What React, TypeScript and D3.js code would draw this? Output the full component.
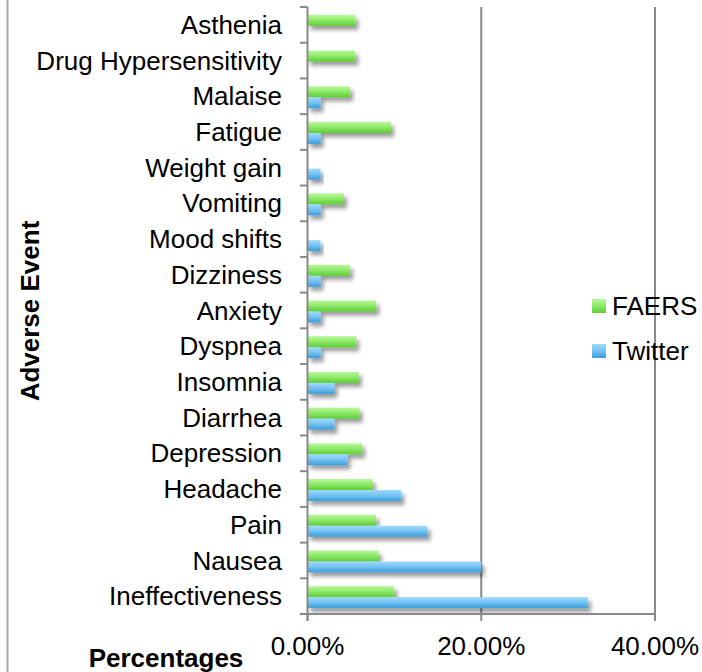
import * as d3 from 'd3';

const categories = [
  'Ineffectiveness', 'Nausea', 'Pain', 'Headache', 'Depression', 'Diarrhea',
  'Insomnia', 'Dyspnea', 'Anxiety', 'Dizziness', 'Mood shifts', 'Vomiting',
  'Weight gain', 'Fatigue', 'Malaise', 'Drug Hypersensitivity', 'Asthenia',
];
const faers = [10.0, 8.2, 7.9, 7.5, 6.3, 6.0, 5.9, 5.6, 7.9, 4.9, 0, 4.2, 0, 9.6, 4.9, 5.5, 5.5];
const twitter = [32.3, 20.0, 13.8, 10.8, 4.6, 3.1, 3.1, 1.5, 1.5, 1.5, 1.5, 1.5, 1.5, 1.5, 1.5, 0, 0];
const xTicks = [0, 20, 40];
const seriesNames = ['FAERS', 'Twitter'];

const W = 702;
const H = 672;
const axisColor = '#898989';
const font = 'Liberation Sans, Arial, sans-serif';

export default function App() {
  const x = d3.scaleLinear().domain([0, 40]).range([307.5, 655]);
  const y = d3.scaleBand().domain([...categories].reverse()).range([7, 614]);
  const bw = y.bandwidth();
  const sub = d3.scaleBand().domain(seriesNames).range([0, 22]);
  const fmt = d3.format('.2%');

  const rows = categories.map((c, i) => ({ c, f: faers[i], t: twitter[i] }));

  return (
    <svg width={W} height={H} style={{ position: 'absolute', left: 0, top: 0 }} fontFamily={font}>
      <defs>
        <linearGradient id="gGreen" x1="0" y1="0" x2="0" y2="1">
          <stop offset="0" stopColor="#b6f99a" />
          <stop offset="0.5" stopColor="#8ee868" />
          <stop offset="1" stopColor="#5acd34" />
        </linearGradient>
        <linearGradient id="gBlue" x1="0" y1="0" x2="0" y2="1">
          <stop offset="0" stopColor="#a0dbfd" />
          <stop offset="0.5" stopColor="#72c2f2" />
          <stop offset="1" stopColor="#3d9cdb" />
        </linearGradient>
        <filter id="shadow" x="-10%" y="-50%" width="130%" height="250%">
          <feGaussianBlur in="SourceAlpha" stdDeviation="2" />
          <feOffset dx="3" dy="4" result="b" />
          <feComponentTransfer>
            <feFuncA type="linear" slope="0.4" />
          </feComponentTransfer>
          <feMerge>
            <feMergeNode />
            <feMergeNode in="SourceGraphic" />
          </feMerge>
        </filter>
      </defs>

      {/* frame edge */}
      <line x1={7.5} x2={7.5} y1={0} y2={H} stroke="#a6a6a6" strokeWidth={2} />

      {/* gridlines */}
      {xTicks.slice(1).map(t => (
        <line key={t} x1={x(t)} x2={x(t)} y1={7} y2={614} stroke={axisColor} strokeWidth={2} />
      ))}

      {/* bars */}
      {rows.map(r => {
        const y0 = (y(r.c) ?? 0) + (bw - 22) / 2 + 1;
        return (
          <g key={r.c} filter="url(#shadow)">
            {r.f > 0 && (
              <rect x={x(0)} y={y0 + (sub('FAERS') ?? 0)} width={x(r.f) - x(0)} height={sub.bandwidth()} fill="url(#gGreen)" />
            )}
            {r.t > 0 && (
              <rect x={x(0)} y={y0 + (sub('Twitter') ?? 0)} width={x(r.t) - x(0)} height={sub.bandwidth()} fill="url(#gBlue)" />
            )}
          </g>
        );
      })}

      {/* y axis */}
      <line x1={x(0)} x2={x(0)} y1={7} y2={621} stroke={axisColor} strokeWidth={2} />
      {[...y.domain().map(c => y(c) ?? 0), 614].map((v, i) => (
        <line key={i} x1={300} x2={x(0)} y1={v} y2={v} stroke={axisColor} strokeWidth={2} />
      ))}
      {categories.map(c => (
        <text key={c} x={282} y={(y(c) ?? 0) + bw / 2} dy="0.35em" textAnchor="end" fontSize={26} fill="#000">
          {c}
        </text>
      ))}

      {/* x axis */}
      <line x1={x(0)} x2={x(40)} y1={614} y2={614} stroke={axisColor} strokeWidth={2} />
      {xTicks.map(t => (
        <g key={t}>
          <line x1={x(t)} x2={x(t)} y1={614} y2={621} stroke={axisColor} strokeWidth={2} />
          <text x={x(t)} y={655} textAnchor="middle" fontSize={26} fill="#000">
            {fmt(t / 100)}
          </text>
        </g>
      ))}

      {/* axis titles */}
      <text x={166} y={667} textAnchor="middle" fontSize={26} fontWeight="bold">
        Percentages
      </text>
      <text transform="translate(39,311) rotate(-90)" textAnchor="middle" fontSize={26} fontWeight="bold">
        Adverse Event
      </text>

      {/* legend */}
      {seriesNames.map((s, i) => (
        <g key={s} transform={`translate(592,${306 + i * 45})`}>
          <rect x={0} y={-7} width={14} height={14} fill={i === 0 ? 'url(#gGreen)' : 'url(#gBlue)'} />
          <text x={20} y={0} dy="0.35em" fontSize={26}>
            {s}
          </text>
        </g>
      ))}
    </svg>
  );
}
